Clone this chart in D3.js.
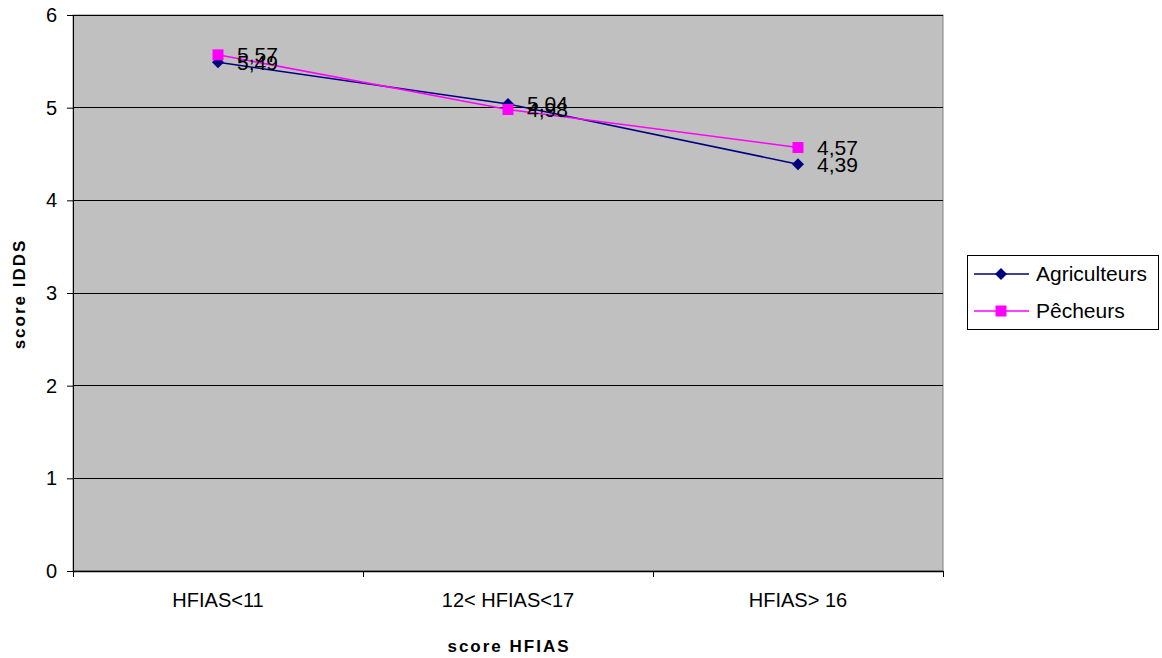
<!DOCTYPE html>
<html><head><meta charset="utf-8">
<script src="https://cdn.jsdelivr.net/npm/d3@7"></script>
<style>body{margin:0;background:#fff;}svg{display:block;font-family:"Liberation Sans",Arial,sans-serif;}</style>
</head><body>
<svg id="c" width="1162" height="658"></svg>
<script>
const categories = ["HFIAS<11", "12< HFIAS<17", "HFIAS> 16"];
const agriculteurs = [5.49, 5.04, 4.39];
const pecheurs = [5.57, 4.98, 4.57];
const yTicks = [0, 1, 2, 3, 4, 5, 6];
const seriesNames = ["Agriculteurs", "Pêcheurs"];
const seriesColors = ["#000080", "#FF00FF"];

const svg = d3.select("#c");
const L = 73, R = 943, T = 15, B = 571;
const x = d3.scaleBand().domain(categories).range([L, R]);
const y = d3.scaleLinear().domain([0, 6]).range([B, T]);

svg.append("rect").attr("x", L).attr("y", T).attr("width", R - L).attr("height", B - T)
  .attr("fill", "#C0C0C0").attr("stroke", "#808080").attr("stroke-width", 1);

// gridlines
svg.append("g").selectAll("line").data(yTicks.filter(d => d > 0)).join("line")
  .attr("x1", L).attr("x2", R).attr("y1", d => y(d)).attr("y2", d => y(d))
  .attr("stroke", "#000").attr("stroke-width", 1).attr("shape-rendering", "crispEdges");

// y axis
const ya = svg.append("g").attr("transform", `translate(${L},0)`)
  .call(d3.axisLeft(y).tickValues(yTicks).tickSize(6).tickPadding(10).tickFormat(d3.format("d")));
ya.select(".domain").attr("stroke", "#000");
ya.selectAll(".tick line").attr("stroke", "#000");
ya.selectAll("text").attr("font-size", 20).attr("fill", "#000").attr("font-family", "Liberation Sans, Arial, sans-serif");

// x axis
const xa = svg.append("g").attr("transform", `translate(0,${B})`)
  .call(d3.axisBottom(x).tickSize(0).tickPadding(22));
xa.select(".domain").attr("stroke", "#000").attr("stroke-width", 1.5);
xa.selectAll("text").attr("font-size", 20).attr("fill", "#000").attr("font-family", "Liberation Sans, Arial, sans-serif");
// category separator ticks
const sep = categories.map(c => x(c)).concat([R]);
svg.append("g").selectAll("line").data(sep).join("line")
  .attr("x1", d => d).attr("x2", d => d).attr("y1", B).attr("y2", B + 6)
  .attr("stroke", "#000").attr("shape-rendering", "crispEdges");

const cx = c => x(c) + x.bandwidth() / 2;
const line = d3.line().x((d, i) => cx(categories[i])).y(d => y(d));
const allSeries = [agriculteurs, pecheurs];

allSeries.forEach((vals, si) => {
  svg.append("path").attr("d", line(vals)).attr("fill", "none")
    .attr("stroke", seriesColors[si]).attr("stroke-width", 1.5);
});
allSeries.forEach((vals, si) => {
  const g = svg.append("g");
  vals.forEach((v, i) => {
    const px = cx(categories[i]), py = y(v);
    if (si === 0) {
      g.append("path").attr("d", `M${px},${py-6}L${px+6},${py}L${px},${py+6}L${px-6},${py}Z`).attr("fill", seriesColors[si]);
    } else {
      g.append("rect").attr("x", px - 5.5).attr("y", py - 5.5).attr("width", 11).attr("height", 11).attr("fill", seriesColors[si]);
    }
  });
});
allSeries.forEach((vals, si) => {
  vals.forEach((v, i) => {
    svg.append("text").attr("x", cx(categories[i]) + 19).attr("y", y(v)).attr("dy", "0.35em")
      .attr("font-size", 21).attr("fill", "#000").text(d3.format(".2f")(v).replace(".", ","));
  });
});

// axis titles
svg.append("text").attr("x", 509).attr("y", 652).attr("text-anchor", "middle")
  .attr("font-size", 17).attr("font-weight", "bold").attr("letter-spacing", 2).text("score HFIAS");
svg.append("text").attr("transform", "translate(25,294) rotate(-90)").attr("text-anchor", "middle")
  .attr("font-size", 17).attr("font-weight", "bold").attr("letter-spacing", 2).text("score IDDS");

// legend
const lg = svg.append("g");
lg.append("rect").attr("x", 967.5).attr("y", 255.5).attr("width", 191).attr("height", 74)
  .attr("fill", "#fff").attr("stroke", "#000");
seriesNames.forEach((n, i) => {
  const ly = 274 + i * 37;
  lg.append("line").attr("x1", 974).attr("x2", 1029).attr("y1", ly).attr("y2", ly)
    .attr("stroke", seriesColors[i]).attr("stroke-width", 1.5);
  if (i === 0) {
    lg.append("path").attr("d", `M1001,${ly-6}L1007,${ly}L1001,${ly+6}L995,${ly}Z`).attr("fill", seriesColors[i]);
  } else {
    lg.append("rect").attr("x", 995.5).attr("y", ly - 5.5).attr("width", 11).attr("height", 11).attr("fill", seriesColors[i]);
  }
  lg.append("text").attr("x", 1036).attr("y", ly).attr("dy", "0.35em").attr("font-size", 21).text(n);
});
</script>
</body></html>
